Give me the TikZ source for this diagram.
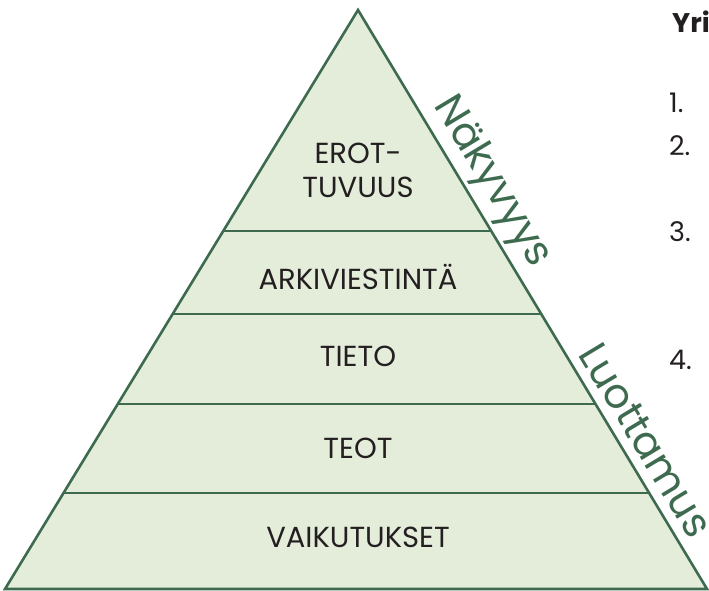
\documentclass[tikz,border=0pt]{standalone}
\usepackage{fontspec}
\setmainfont{Poppins}
\usetikzlibrary{calc}
\definecolor{pyrgreen}{HTML}{3E6B4F}
\definecolor{pyrfill}{HTML}{E4EDDA}
\definecolor{txtdark}{HTML}{231F20}
\begin{document}
\begin{tikzpicture}[x=1pt,y=-1pt,
layer/.style={draw=pyrgreen,line width=2.6pt},
lvllabel/.style={text=txtdark,font=\fontsize{29}{34}\selectfont,align=center},
sidelabel/.style={text=pyrgreen,font=\fontsize{41}{46}\selectfont,rotate=-58.9,anchor=south,inner sep=4.5pt},
listnum/.style={text=txtdark,font=\fontsize{27}{30}\selectfont,anchor=west,inner sep=0pt}]

\useasboundingbox (0,0) rectangle (709,591);
\coordinate (A) at (358,10);
\coordinate (L) at (5,589);
\coordinate (R) at (707,589);

\draw[layer,fill=pyrfill] (A) -- (L) -- (R) -- cycle;
\foreach \t in {0.3817,0.5251,0.6805,0.8342}
  \draw[layer] ($(A)!\t!(L)$) -- ($(A)!\t!(R)$);

\node[lvllabel] (erot) at (358,170) {EROT-\\TUVUUS};
\node[lvllabel] (arki) at (358,277) {ARKIVIESTINTÄ};
\node[lvllabel] (tieto) at (358,356) {TIETO};
\node[lvllabel] (teot) at (358,448) {TEOT};
\node[lvllabel] (vaik) at (358,537) {VAIKUTUKSET};

\node[sidelabel] (nak) at ($(A)!0.32!(R)$) {Näkyvyys};
\node[sidelabel,inner sep=10pt] (luot) at ($(A)!0.765!(R)$) {Luottamus};

\node[listnum,font=\fontsize{27}{30}\selectfont\bfseries] (yri) at (672,22) {Yri};
\node[listnum] (n1) at (669,103) {1.};
\node[listnum] (n2) at (669,146) {2.};
\node[listnum] (n3) at (669,232) {3.};
\node[listnum] (n4) at (669,360) {4.};

\end{tikzpicture}
\end{document}
